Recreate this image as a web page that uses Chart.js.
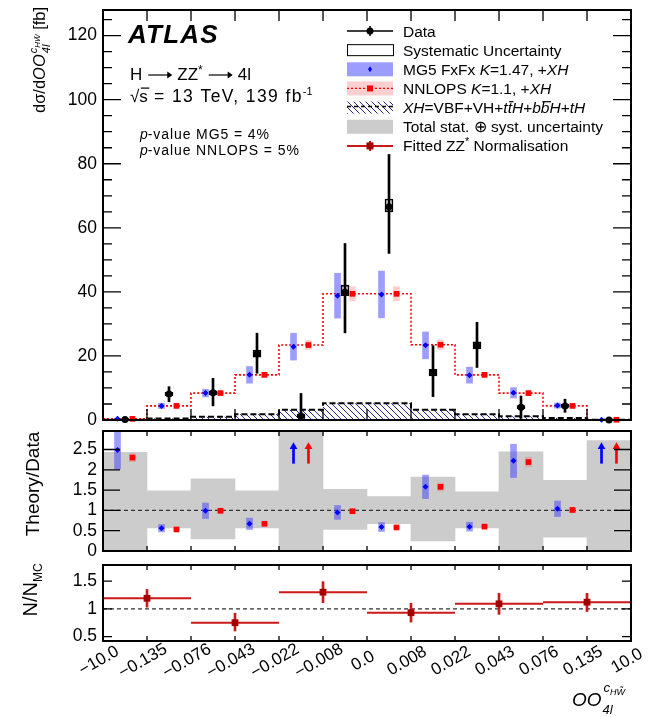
<!DOCTYPE html>
<html>
<head>
<meta charset="utf-8">
<script src="https://cdn.jsdelivr.net/npm/chart.js@4.4.1/dist/chart.umd.min.js"></script>
<style>
  html, body { margin: 0; padding: 0; background: #fff; }
  #wrap { position: relative; width: 656px; height: 717px; overflow: hidden; }
  .pane { position: absolute; left: 0; width: 656px; }
</style>
</head>
<body>
<div id="wrap">
  <div class="pane" style="top:0;height:430px"><canvas id="main"></canvas></div>
  <div class="pane" style="top:424px;height:134px"><canvas id="ratio"></canvas></div>
  <div class="pane" style="top:556px;height:161px"><canvas id="norm"></canvas></div>
</div>
<script>
(function () {

  // bin edges of OO_4l^cHW~ (bins are drawn with equal width)
  const binEdges = ['\u221210.0', '\u22120.135', '\u22120.076', '\u22120.043', '\u22120.022', '\u22120.008',
                    '0.0', '0.008', '0.022', '0.043', '0.076', '0.135', '10.0'];
  const nBins = binEdges.length - 1;

  // dsigma/dOO [fb]
  const dataVal   = [0.15, 8.1, 8.5, 20.6, 1.25, 40.0, 66.6, 14.8, 23.2, 4.0, 4.4, 0.02];
  const dataHi    = [0.15, 10.4, 13.0, 27.1, 8.3, 55.1, 82.9, 23.2, 30.5, 7.5, 6.5, 0.02];
  const dataLo    = [0.15, 5.7, 4.4, 14.6, 0.0, 27.2, 52.0, 7.3, 16.4, 0.5, 2.4, 0.02];
  const systLo    = [0.1, 7.6, 7.9, 19.6, 0.7, 38.8, 65.0, 13.8, 22.2, 3.5, 3.9, 0.0];
  const systHi    = [0.2, 8.6, 9.1, 21.8, 1.8, 42.1, 69.0, 15.8, 24.4, 4.5, 4.9, 0.05];
  const mg5       = [0.37, 4.4, 8.4, 14.1, 22.9, 38.8, 39.2, 23.3, 14.0, 8.5, 4.5, 0.1];
  const mg5Err    = [0.1, 0.8, 1.2, 2.6, 4.2, 7.0, 7.3, 4.2, 2.5, 1.6, 0.8, 0.05];
  const nnlops    = [0.35, 4.4, 8.4, 14.1, 23.4, 39.4, 39.4, 23.5, 14.1, 8.4, 4.4, 0.08];
  const nnlopsErr = [0.05, 0.3, 0.5, 0.8, 1.4, 2.2, 2.2, 1.5, 0.8, 0.5, 0.3, 0.05];
  const xhVal     = [0.05, 0.5, 1.0, 1.8, 3.2, 5.2, 5.2, 3.2, 1.8, 1.2, 0.6, 0.05];

  // Theory/Data
  const mg5Ratio    = [2.49, 0.56, 0.99, 0.67, null, 0.95, 0.59, 1.58, 0.60, 2.22, 1.04, null];
  const mg5RatioErr = [0.47, 0.09, 0.19, 0.14, null, 0.17, 0.11, 0.29, 0.11, 0.41, 0.19, null];
  const nnlRatio    = [2.30, 0.53, 0.99, 0.67, null, 0.98, 0.58, 1.58, 0.60, 2.19, 1.01, null];
  const nnlRatioErr = [0.1, 0.03, 0.05, 0.04, null, 0.05, 0.03, 0.1, 0.04, 0.12, 0.06, null];
  const totLo       = [0, 0.57, 0.30, 0.57, 0, 0.53, 0.67, 0.25, 0.57, 0, 0.34, 0];
  const totHi       = [2.43, 1.48, 1.78, 1.48, 3.0, 1.52, 1.34, 1.82, 1.46, 2.44, 1.74, 2.72];
  const offScaleBins = [4, 11];
  const arrowFrom = 2.16, arrowTip = 2.57;

  // fitted ZZ* normalisation, N/N_MC
  const fitEdges = [0, 2, 4, 6, 8, 10, 12];
  const fitVal   = [1.19, 0.75, 1.30, 0.93, 1.09, 1.12];
  const fitLo    = [1.03, 0.60, 1.11, 0.76, 0.90, 0.95];
  const fitHi    = [1.35, 0.92, 1.49, 1.10, 1.28, 1.28];

  const mainTicks  = [0, 20, 40, 60, 80, 100, 120];
  const mainMinor  = [5, 10, 15, 25, 30, 35, 45, 50, 55, 65, 70, 75, 85, 90, 95, 105, 110, 115, 125];
  const ratioTicks = [0, 0.5, 1, 1.5, 2, 2.5];
  const normTicks  = [0.5, 1, 1.5];

  const FONT = '"Liberation Sans", Arial, Helvetica, sans-serif';
  const F = (size, style) => (style ? style + ' ' : '') + size + 'px ' + FONT;
  const BLUE = '#0000ff', RED = '#ff0000';
  const BLUE_BAND = 'rgba(60,60,255,0.5)', RED_BAND = 'rgba(255,60,60,0.25)';
  const FIT_LINE = '#cc1a1a', FIT_MARK = '#a30000';
  const SHIFT = 0.17;   // MG5 / NNLOPS offset inside a bin

  const centre = i => i + 0.5;
  const steps = vals => vals.map((v, i) => ({x: i, y: v})).concat([{x: nBins, y: vals[nBins - 1]}]);
  const points = (vals, off) => vals.map((v, i) => v === null ? null : {x: centre(i) + off, y: v}).filter(Boolean);
  const ranges = (lo, hi, off) => lo.map((l, i) => l === null ? null : {x: centre(i) + off, y: [l, hi[i]]}).filter(Boolean);
  const around = (vals, err, off) => vals.map((v, i) => v === null ? null : {x: centre(i) + off, y: [v - err[i], v + err[i]]}).filter(Boolean);
  const binWidth = c => { const s = c.chart.scales.x; return s.getPixelForValue(1) - s.getPixelForValue(0); };

  const hatchFill = (function () {
    const c = document.createElement('canvas');
    c.width = 6; c.height = 6;
    const g = c.getContext('2d');
    g.strokeStyle = '#23238c';
    g.lineWidth = 1;
    g.beginPath();
    g.moveTo(-1, -1); g.lineTo(7, 7);
    g.moveTo(-1, 5); g.lineTo(1, 7);
    g.moveTo(5, -1); g.lineTo(7, 1);
    g.stroke();
    return g.createPattern(c, 'repeat');
  })();

  // text made of runs: {t, f, dy, bar, arrow, ls}
  function drawRuns(ctx, x, y, parts) {
    for (const p of parts) {
      const yy = y + (p.dy || 0);
      if (p.arrow) {
        // long right arrow, like TLatex #rightarrow
        const ya = yy - 5;
        ctx.save();
        ctx.strokeStyle = ctx.fillStyle; ctx.lineWidth = 1.2;
        ctx.beginPath(); ctx.moveTo(x + 6, ya); ctx.lineTo(x + p.arrow - 7, ya); ctx.stroke();
        ctx.beginPath(); ctx.moveTo(x + p.arrow - 5, ya); ctx.lineTo(x + p.arrow - 10, ya - 3.5);
        ctx.lineTo(x + p.arrow - 10, ya + 3.5); ctx.closePath(); ctx.fill();
        ctx.restore();
        x += p.arrow;
        continue;
      }
      ctx.font = p.f;
      ctx.letterSpacing = (p.ls || 0) + 'px';
      const w = ctx.measureText(p.t).width;
      ctx.fillText(p.t, x, yy);
      if (p.bar) ctx.fillRect(x + 1.5, yy - p.bar, w, 1.2);
      x += w;
    }
    ctx.letterSpacing = '0px';
    return x;
  }

  // frame and ROOT style inward ticks on all four sides
  const frameTicks = {
    id: 'frameTicks',
    afterDatasetsDraw(chart, args, o) {
      const {ctx, chartArea: a, scales: {x, y}} = chart;
      ctx.save();
      ctx.strokeStyle = '#000';
      ctx.lineWidth = 1.3;
      ctx.beginPath();
      const yTick = (v, len) => {
        const py = y.getPixelForValue(v);
        ctx.moveTo(a.left, py); ctx.lineTo(a.left + len, py);
        ctx.moveTo(a.right, py); ctx.lineTo(a.right - len, py);
      };
      o.major.forEach(v => yTick(v, o.majorLen));
      (o.minor || []).forEach(v => yTick(v, o.minorLen));
      for (let i = 1; i < nBins; i++) {
        const px = x.getPixelForValue(i);
        ctx.moveTo(px, a.bottom); ctx.lineTo(px, a.bottom - o.xLen);
        ctx.moveTo(px, a.top); ctx.lineTo(px, a.top + o.xLen);
      }
      ctx.stroke();
      ctx.lineWidth = 2;
      ctx.strokeRect(a.left, a.top, a.right - a.left, a.bottom - a.top);
      ctx.restore();
    }
  };

  function baseOptions(yMin, yMax, yTicks, padding, frame) {
    return {
      responsive: true,
      maintainAspectRatio: false,
      animation: false,
      events: [],
      layout: {padding: padding},
      plugins: {legend: {display: false}, tooltip: {enabled: false}, frameTicks: frame},
      scales: {
        x: {type: 'linear', min: 0, max: nBins, display: false, offset: false},
        y: {
          type: 'linear', min: yMin, max: yMax,
          afterBuildTicks: s => { s.ticks = yTicks.map(v => ({value: v})); },
          afterFit: s => { s.width = 103; s.paddingTop = 0; s.paddingBottom = 0; },
          grid: {display: false, drawTicks: false},
          border: {display: false},
          ticks: {padding: 6, color: '#000', autoSkip: false, font: {family: FONT, size: 17.5},
                  callback: v => String(v)}
        }
      }
    };
  }

  // ---------------- main panel ----------------
  const legendRows = [
    [{t: 'Data'}],
    [{t: 'Systematic Uncertainty'}],
    [{t: 'MG5 FxFx '}, {t: 'K', i: 1}, {t: '=1.47, +'}, {t: 'XH', i: 1}],
    [{t: 'NNLOPS '}, {t: 'K', i: 1}, {t: '=1.1, +'}, {t: 'XH', i: 1}],
    [{t: 'XH', i: 1}, {t: '=VBF+VH+'}, {t: 't', i: 1}, {t: 't', i: 1, bar: 1}, {t: 'H', i: 1}, {t: '+'},
     {t: 'b', i: 1}, {t: 'b', i: 1, bar: 1}, {t: 'H', i: 1}, {t: '+'}, {t: 'tH', i: 1}],
    [{t: 'Total stat. \u2295 syst. uncertainty'}],
    [{t: 'Fitted ZZ'}, {t: '*', sup: 1}, {t: ' Normalisation'}]
  ];

  function legendSymbol(ctx, k, x0, yc) {
    const w = 46, xm = x0 + w / 2;
    ctx.save();
    if (k === 0) {
      ctx.strokeStyle = '#000'; ctx.lineWidth = 1.5;
      ctx.beginPath(); ctx.moveTo(x0, yc); ctx.lineTo(x0 + w, yc); ctx.moveTo(xm, yc - 5); ctx.lineTo(xm, yc + 5); ctx.stroke();
      ctx.fillStyle = '#000'; ctx.beginPath(); ctx.arc(xm, yc, 3.5, 0, Math.PI * 2); ctx.fill();
    } else if (k === 1) {
      ctx.strokeStyle = '#000'; ctx.lineWidth = 1;
      ctx.strokeRect(x0 + 0.5, yc - 5.5, w, 11);
    } else if (k === 2) {
      ctx.fillStyle = BLUE_BAND; ctx.fillRect(x0, yc - 7, w, 14);
      ctx.fillStyle = BLUE; ctx.beginPath();
      ctx.moveTo(xm, yc - 3); ctx.lineTo(xm + 2, yc); ctx.lineTo(xm, yc + 3); ctx.lineTo(xm - 2, yc); ctx.fill();
    } else if (k === 3) {
      ctx.fillStyle = RED_BAND; ctx.fillRect(x0, yc - 7, w, 14);
      ctx.strokeStyle = RED; ctx.lineWidth = 1.2; ctx.setLineDash([2, 2]);
      ctx.beginPath(); ctx.moveTo(x0, yc); ctx.lineTo(x0 + w, yc); ctx.stroke();
      ctx.fillStyle = RED; ctx.fillRect(xm - 3, yc - 3, 6, 6);
    } else if (k === 4) {
      ctx.fillStyle = hatchFill; ctx.fillRect(x0, yc - 6, w, 12);
      ctx.strokeStyle = '#000'; ctx.lineWidth = 1.5; ctx.setLineDash([4, 3]);
      ctx.beginPath(); ctx.moveTo(x0, yc - 1); ctx.lineTo(x0 + w, yc - 1); ctx.stroke();
    } else if (k === 5) {
      ctx.fillStyle = '#cccccc'; ctx.fillRect(x0, yc - 7, w, 14);
    } else {
      ctx.strokeStyle = FIT_LINE; ctx.lineWidth = 2;
      ctx.beginPath(); ctx.moveTo(x0, yc); ctx.lineTo(x0 + w, yc); ctx.moveTo(xm, yc - 5); ctx.lineTo(xm, yc + 5); ctx.stroke();
      ctx.fillStyle = FIT_MARK; ctx.fillRect(xm - 3.5, yc - 3.5, 7, 7);
    }
    ctx.restore();
  }

  const mainText = {
    id: 'mainText',
    afterDraw(chart) {
      const ctx = chart.ctx;
      ctx.save();
      ctx.fillStyle = '#000';
      ctx.textBaseline = 'alphabetic';
      ctx.textAlign = 'left';

      drawRuns(ctx, 128, 43, [{t: 'ATLAS', f: F(26, 'italic bold'), ls: 1.2}]);

      drawRuns(ctx, 130, 80, [{t: 'H', f: F(17)}, {arrow: 35}, {t: 'ZZ', f: F(17)}, {t: '*', f: F(12), dy: -6},
                              {arrow: 35}, {t: '4l', f: F(17)}]);
      const xs = drawRuns(ctx, 130, 101.5, [{t: '\u221A', f: F(17)}]);
      drawRuns(ctx, xs, 101.5, [{t: 's', f: F(17), bar: 14}, {t: ' = 13 TeV, 139 fb', f: F(17.5), ls: 1.4},
                                {t: '-1', f: F(11), dy: -7}]);

      drawRuns(ctx, 140, 139, [{t: 'p', f: F(14, 'italic')}, {t: '-value MG5 = 4%', f: F(14), ls: 0.9}]);
      drawRuns(ctx, 140, 155, [{t: 'p', f: F(14, 'italic')}, {t: '-value NNLOPS = 5%', f: F(14), ls: 0.9}]);

      // legend
      legendRows.forEach((row, k) => {
        const yc = 31 + k * 19.15;
        legendSymbol(ctx, k, 347, yc);
        ctx.fillStyle = '#000';
        drawRuns(ctx, 403, yc + 5.5, row.map(p => ({
          t: p.t,
          f: p.sup ? F(11) : F(15.5, p.i ? 'italic' : ''),
          dy: p.sup ? -6 : 0,
          bar: p.bar ? 12 : 0
        })));
      });

      // y title
      ctx.translate(45, 113);
      ctx.rotate(-Math.PI / 2);
      const x = drawRuns(ctx, 0, 0, [{t: 'd\u03C3/d', f: F(16.5)}, {t: 'OO', f: F(16.5, 'italic')}]);
      const xSup = drawRuns(ctx, x + 1, -8, [{t: 'c', f: F(11, 'italic')}, {t: 'HW\u0303', f: F(8, 'italic'), dy: 3}]);
      drawRuns(ctx, x + 1, 5, [{t: '4l', f: F(11, 'italic')}]);
      drawRuns(ctx, xSup, 0, [{t: ' [fb]', f: F(16.5)}]);
      ctx.restore();
    }
  };

  const mainOpts = baseOptions(0, 128, mainTicks, {top: 10, right: 25, bottom: 10, left: 0},
    {major: mainTicks, minor: mainMinor, majorLen: 18, minorLen: 9, xLen: 11});

  new Chart(document.getElementById('main'), {
    type: 'scatter',
    data: {
      datasets: [
        {type: 'scatter', data: points(dataVal, 0), pointStyle: 'circle', pointRadius: 3.5,
         backgroundColor: '#000', borderColor: '#000', borderWidth: 0, clip: false, order: 1},
        {type: 'bar', data: ranges(dataLo, dataHi, 0), backgroundColor: '#000', barThickness: 2,
         grouped: false, order: 2},
        {type: 'bar', data: ranges(systLo, systHi, 0), backgroundColor: 'rgba(0,0,0,0)', borderColor: '#000',
         borderWidth: 1, borderSkipped: false, barThickness: 8, grouped: false, order: 3},
        {type: 'scatter', data: points(mg5, -SHIFT), pointStyle: 'rectRot', pointRadius: 3,
         backgroundColor: BLUE, borderColor: BLUE, borderWidth: 0, clip: false, order: 4},
        {type: 'scatter', data: points(nnlops, SHIFT), pointStyle: 'rect', pointRadius: 4,
         backgroundColor: RED, borderColor: RED, borderWidth: 0, clip: false, order: 4},
        {type: 'bar', data: around(mg5, mg5Err, -SHIFT), backgroundColor: BLUE_BAND, barThickness: 6,
         grouped: false, order: 6},
        {type: 'bar', data: around(nnlops, nnlopsErr, SHIFT), backgroundColor: RED_BAND, barThickness: 6,
         grouped: false, order: 6},
        {type: 'line', data: steps(nnlops), stepped: true, borderColor: RED, borderWidth: 1.6,
         borderDash: [2, 2], pointRadius: 0, fill: false, order: 7},
        {type: 'line', data: steps(xhVal), stepped: true, borderColor: '#000', borderWidth: 2,
         borderDash: [6, 3], pointRadius: 0, fill: 'origin', backgroundColor: hatchFill, order: 8}
      ]
    },
    options: mainOpts,
    plugins: [frameTicks, mainText]
  });

  // ---------------- Theory/Data ----------------
  const ratioText = {
    id: 'ratioText',
    afterDraw(chart) {
      const ctx = chart.ctx;
      ctx.save();
      ctx.fillStyle = '#000';
      ctx.translate(39, 60);
      ctx.rotate(-Math.PI / 2);
      ctx.font = F(19);
      ctx.textAlign = 'center';
      ctx.fillText('Theory/Data', 0, 0);
      ctx.restore();
    }
  };

  const arrowShafts = (off) => offScaleBins.map(i => ({x: centre(i) + off, y: [arrowFrom, arrowTip]}));
  const arrowHeads = (off) => offScaleBins.map(i => ({x: centre(i) + off, y: arrowTip}));
  const unitLine = [{x: 0, y: 1}, {x: nBins, y: 1}];

  new Chart(document.getElementById('ratio'), {
    type: 'scatter',
    data: {
      datasets: [
        {type: 'scatter', data: points(mg5Ratio, -SHIFT), pointStyle: 'rectRot', pointRadius: 3,
         backgroundColor: BLUE, borderWidth: 0, order: 1},
        {type: 'scatter', data: points(nnlRatio, SHIFT), pointStyle: 'rect', pointRadius: 4,
         backgroundColor: RED, borderWidth: 0, order: 1},
        {type: 'scatter', data: arrowHeads(-SHIFT), pointStyle: 'triangle', pointRadius: 4.5,
         backgroundColor: BLUE, borderWidth: 0, order: 1},
        {type: 'scatter', data: arrowHeads(SHIFT), pointStyle: 'triangle', pointRadius: 4.5,
         backgroundColor: RED, borderWidth: 0, order: 1},
        {type: 'bar', data: arrowShafts(-SHIFT), backgroundColor: BLUE, barThickness: 2, grouped: false, order: 2},
        {type: 'bar', data: arrowShafts(SHIFT), backgroundColor: RED, barThickness: 2, grouped: false, order: 2},
        {type: 'bar', data: around(mg5Ratio, mg5RatioErr, -SHIFT), backgroundColor: BLUE_BAND, barThickness: 6,
         grouped: false, order: 3},
        {type: 'bar', data: around(nnlRatio, nnlRatioErr, SHIFT), backgroundColor: RED_BAND, barThickness: 6,
         grouped: false, order: 3},
        {type: 'line', data: unitLine, borderColor: '#333', borderWidth: 1.2, borderDash: [4, 3],
         pointRadius: 0, order: 4},
        {type: 'bar', data: ranges(totLo, totHi, 0), backgroundColor: '#cccccc', barThickness: binWidth,
         grouped: false, order: 5}
      ]
    },
    options: baseOptions(0, 2.955, ratioTicks, {top: 7, right: 25, bottom: 7, left: 0},
      {major: ratioTicks.slice(1), majorLen: 17, xLen: 5}),
    plugins: [frameTicks, ratioText]
  });

  // ---------------- N/N_MC ----------------
  const fitSegments = [];
  fitVal.forEach((v, k) => {
    fitSegments.push({x: fitEdges[k], y: v}, {x: fitEdges[k + 1], y: v}, {x: fitEdges[k + 1], y: null});
  });
  const fitCentres = fitVal.map((v, k) => ({x: (fitEdges[k] + fitEdges[k + 1]) / 2, y: v}));
  const fitBars = fitVal.map((v, k) => ({x: (fitEdges[k] + fitEdges[k + 1]) / 2, y: [fitLo[k], fitHi[k]]}));

  const normText = {
    id: 'normText',
    afterDraw(chart) {
      const ctx = chart.ctx;
      const a = chart.chartArea, xs = chart.scales.x;
      ctx.save();
      ctx.fillStyle = '#000';

      // bin edge labels, tilted
      ctx.font = F(17);
      ctx.textAlign = 'center';
      ctx.textBaseline = 'middle';
      binEdges.forEach((lab, i) => {
        ctx.save();
        ctx.translate(xs.getPixelForValue(i) - 4, a.bottom + 20);
        ctx.rotate(-Math.PI / 6);
        ctx.fillText(lab, 0, 0);
        ctx.restore();
      });

      // x title
      ctx.textAlign = 'left';
      ctx.textBaseline = 'alphabetic';
      const x0 = 572, yb = a.bottom + 65;
      const x = drawRuns(ctx, x0, yb, [{t: 'OO', f: F(19, 'italic')}]);
      drawRuns(ctx, x + 2, yb - 14, [{t: 'c', f: F(13, 'italic')}, {t: 'HW\u0303', f: F(9, 'italic'), dy: 3}]);
      drawRuns(ctx, x + 1, yb + 8, [{t: '4l', f: F(13, 'italic')}]);

      // y title
      ctx.translate(37, 34);
      ctx.rotate(-Math.PI / 2);
      ctx.font = F(20);
      const wN = ctx.measureText('N/N').width;
      ctx.font = F(12);
      const wMC = ctx.measureText('MC').width;
      drawRuns(ctx, -(wN + wMC) / 2, 0, [{t: 'N/N', f: F(20)}, {t: 'MC', f: F(12), dy: 5}]);
      ctx.restore();
    }
  };

  new Chart(document.getElementById('norm'), {
    type: 'scatter',
    data: {
      datasets: [
        {type: 'scatter', data: fitCentres, pointStyle: 'rect', pointRadius: 4.8,
         backgroundColor: FIT_MARK, borderWidth: 0, order: 1},
        {type: 'bar', data: fitBars, backgroundColor: FIT_LINE, barThickness: 2, grouped: false, order: 2},
        {type: 'line', data: fitSegments, borderColor: FIT_LINE, borderWidth: 2, pointRadius: 0,
         spanGaps: false, order: 3},
        {type: 'line', data: unitLine, borderColor: '#333', borderWidth: 1.2, borderDash: [4, 3],
         pointRadius: 0, order: 4}
      ]
    },
    options: baseOptions(0.42, 1.79, normTicks, {top: 9, right: 25, bottom: 76, left: 0},
      {major: normTicks, majorLen: 9, xLen: 5}),
    plugins: [frameTicks, normText]
  });

})();
</script>
</body>
</html>
